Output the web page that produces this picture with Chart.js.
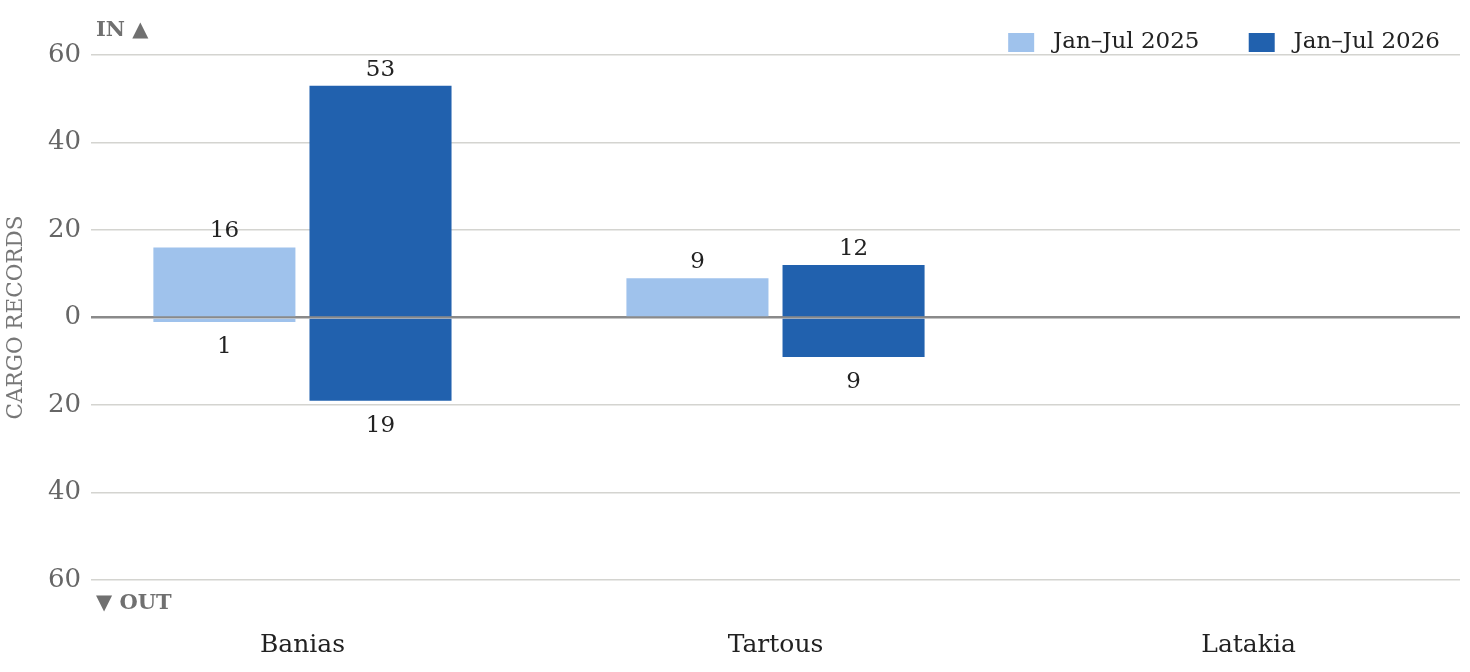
<!DOCTYPE html>
<html>
<head>
<meta charset="utf-8">
<title>Cargo records by port</title>
<script src="https://cdn.jsdelivr.net/npm/chart.js@4/dist/chart.umd.min.js"></script>
<style>
    html, body { margin: 0; padding: 0; background: #fff; }
    .chart-wrap { position: relative; width: 1470px; height: 672px; }
</style>
</head>
<body>
<div class="chart-wrap"><canvas id="cargoChart"></canvas></div>
<script>
// Chart data
const ports = ['Banias', 'Tartous', 'Latakia'];
const seriesLabels = ['Jan–Jul 2025', 'Jan–Jul 2026'];
const in2025 = [16, 9, 0];
const out2025 = [1, 0, 0];
const in2026 = [53, 12, 0];
const out2026 = [19, 9, 0];
const yTickValues = [-60, -40, -20, 0, 20, 40, 60];

const lightBlue = '#9fc2ec';
const darkBlue = '#2161ae';
const fontFamily = '"DejaVu Serif", serif';

function toPoints(values, sign) {
    return values.map(function (v, i) {
        return { x: i, y: sign * v };
    });
}

document.addEventListener('DOMContentLoaded', function () {
    const ctx = document.getElementById('cargoChart');

    // Value labels above / below each bar
    const valueLabels = {
        id: 'valueLabels',
        afterDatasetsDraw(chart) {
            const c = chart.ctx;
            c.save();
            c.font = '23px ' + fontFamily;
            c.fillStyle = '#222';
            c.textAlign = 'center';
            c.textBaseline = 'middle';
            chart.data.datasets.forEach(function (ds, di) {
                const meta = chart.getDatasetMeta(di);
                meta.data.forEach(function (bar, i) {
                    const v = ds.data[i].y;
                    if (!v) return;
                    if (v > 0) {
                        c.fillText(String(v), bar.x, bar.y - 16);
                    } else {
                        c.fillText(String(-v), bar.x, bar.y + 25);
                    }
                });
            });
            c.restore();
        }
    };

    // IN / OUT direction markers
    const directionMarkers = {
        id: 'directionMarkers',
        afterDraw(chart) {
            const area = chart.chartArea;
            const c = chart.ctx;
            c.save();
            c.font = 'bold 21px ' + fontFamily;
            c.fillStyle = '#707070';
            c.textAlign = 'left';
            c.textBaseline = 'middle';
            c.fillText('IN ▲', area.left + 5, area.top - 24);
            c.fillText('▼ OUT', area.left + 5, area.bottom + 24);
            c.restore();
        }
    };

    // nudge the legend down a bit, it sits close to the top gridline
    const legendShift = {
        id: 'legendShift',
        afterLayout(chart) {
            if (chart.legend) {
                chart.legend.top += 9;
                chart.legend.bottom += 9;
            }
        }
    };

    new Chart(ctx, {
        type: 'bar',
        data: {
            datasets: [{
                label: seriesLabels[0],
                data: toPoints(in2025, 1),
                backgroundColor: lightBlue,
                stack: 'y2025'
            }, {
                label: seriesLabels[0] + ' out',
                data: toPoints(out2025, -1),
                backgroundColor: lightBlue,
                stack: 'y2025',
                isOut: true
            }, {
                label: seriesLabels[1],
                data: toPoints(in2026, 1),
                backgroundColor: darkBlue,
                stack: 'y2026'
            }, {
                label: seriesLabels[1] + ' out',
                data: toPoints(out2026, -1),
                backgroundColor: darkBlue,
                stack: 'y2026',
                isOut: true
            }]
        },
        options: {
            responsive: true,
            maintainAspectRatio: false,
            animation: false,
            categoryPercentage: 0.66,
            barPercentage: 0.91,
            layout: {
                padding: { top: 2, right: 10, bottom: 0, left: 0 }
            },
            plugins: {
                tooltip: { enabled: false },
                legend: {
                    position: 'top',
                    align: 'end',
                    labels: {
                        boxWidth: 26,
                        boxHeight: 19,
                        padding: 20,
                        color: '#222',
                        font: { family: fontFamily, size: 23 },
                        filter: function (item, data) {
                            return !data.datasets[item.datasetIndex].isOut;
                        },
                        generateLabels: function (chart) {
                            const items = Chart.defaults.plugins.legend.labels.generateLabels(chart)
                                .filter(function (item) { return !chart.data.datasets[item.datasetIndex].isOut; });
                            items.forEach(function (item, i) {
                                // wider gap after the box and between entries
                                item.text = ' ' + item.text + (i < items.length - 1 ? '    ' : '');
                                item.lineWidth = 0;
                            });
                            return items;
                        }
                    }
                }
            },
            scales: {
                x: {
                    type: 'linear',
                    min: -0.447,
                    max: 2.447,
                    offset: false,
                    grid: { display: false, offset: false },
                    border: { display: false },
                    afterBuildTicks: function (scale) {
                        scale.ticks = ports.map(function (p, i) { return { value: i }; });
                    },
                    afterFit: function (scale) {
                        scale.height = 92;
                    },
                    ticks: {
                        padding: 42,
                        color: '#222',
                        font: { family: fontFamily, size: 25 },
                        callback: function (value) {
                            return ports[value];
                        }
                    }
                },
                y: {
                    stacked: true,
                    min: -60,
                    max: 60,
                    afterBuildTicks: function (scale) {
                        scale.ticks = yTickValues.map(function (v) { return { value: v }; });
                    },
                    afterFit: function (scale) {
                        scale.width = 91;
                    },
                    border: { display: false },
                    grid: {
                        drawTicks: false,
                        color: function (c) {
                            return c.tick && c.tick.value === 0 ? '#8a8a8a' : '#d4d4d0';
                        },
                        lineWidth: function (c) {
                            return c.tick && c.tick.value === 0 ? 2.5 : 1.5;
                        }
                    },
                    ticks: {
                        padding: 10,
                        color: '#666',
                        font: { family: fontFamily, size: 26 },
                        callback: function (value) {
                            return Math.abs(value);
                        }
                    },
                    title: {
                        display: true,
                        text: 'CARGO RECORDS',
                        color: '#777',
                        font: { family: fontFamily, size: 21.5 },
                        padding: { top: 4, bottom: 4 }
                    }
                }
            }
        },
        plugins: [valueLabels, directionMarkers, legendShift]
    });
});
</script>
</body>
</html>
